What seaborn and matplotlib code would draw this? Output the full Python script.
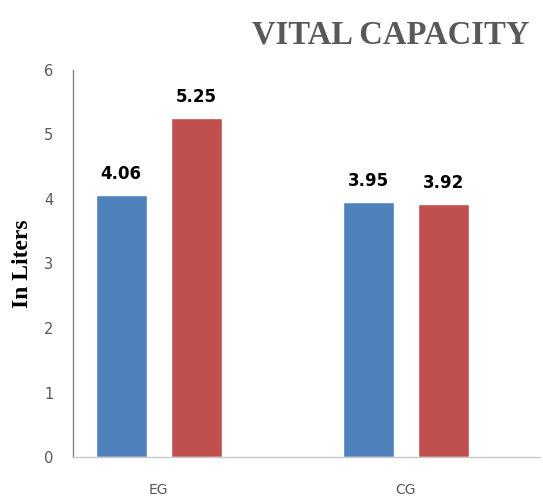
import matplotlib
matplotlib.use("Agg")
import matplotlib.pyplot as plt
import seaborn as sns
import pandas as pd

# Vital capacity (litres): pre/post test for the experimental and control groups
groups = ["EG", "CG"]
tests = ["Pre-test", "Post-test"]
pre_values = [4.06, 3.95]
post_values = [5.25, 3.92]
y_ticks = [0, 1, 2, 3, 4, 5, 6]

df = pd.DataFrame({
    "group": groups * 2,
    "test": [tests[0]] * len(groups) + [tests[1]] * len(groups),
    "value": pre_values + post_values,
})

sns.set_theme(style="white")
fig = plt.figure(figsize=(5.43, 4.99), dpi=100)
ax = fig.add_axes([0.134, 0.084, 0.860, 0.776])

palette = {"Pre-test": "#4F81BD", "Post-test": "#C0504D"}
sns.barplot(data=df, x="group", y="value", hue="test", order=groups,
            hue_order=tests, palette=palette, width=0.607, gap=0.32,
            saturation=1, legend=False, ax=ax)

for container in ax.containers:
    for bar in container:
        h = bar.get_height()
        ax.annotate(f"{h:.2f}", (bar.get_x() + bar.get_width() / 2, h),
                    xytext=(0, 9), textcoords="offset points",
                    ha="center", va="bottom", fontsize=12,
                    fontweight="bold", color="black",
                    family="DejaVu Sans")

ax.set_ylim(0, 6)
ax.set_yticks(y_ticks)
ax.set_xlim(-0.348, 1.543)
ax.set_xlabel("")
ax.set_ylabel("In Liters", fontsize=17, fontweight="bold",
              family="Liberation Serif", color="black", labelpad=8)

ax.tick_params(axis="y", length=0, pad=14, labelsize=10.5, labelcolor="#595959")
ax.tick_params(axis="x", length=0, pad=19, labelsize=10, labelcolor="#595959")

for side in ("top", "right"):
    ax.spines[side].set_visible(False)
ax.spines["left"].set_color("#868686")
ax.spines["bottom"].set_color("#c8c8c8")
ax.spines["left"].set_linewidth(1.0)
ax.spines["bottom"].set_linewidth(1.0)

fig.text(0.975, 0.93, "VITAL CAPACITY", ha="right", va="center",
         fontsize=23.5, fontweight="bold", family="Liberation Serif",
         color="#595959")

fig.savefig("out.png", dpi=100)
